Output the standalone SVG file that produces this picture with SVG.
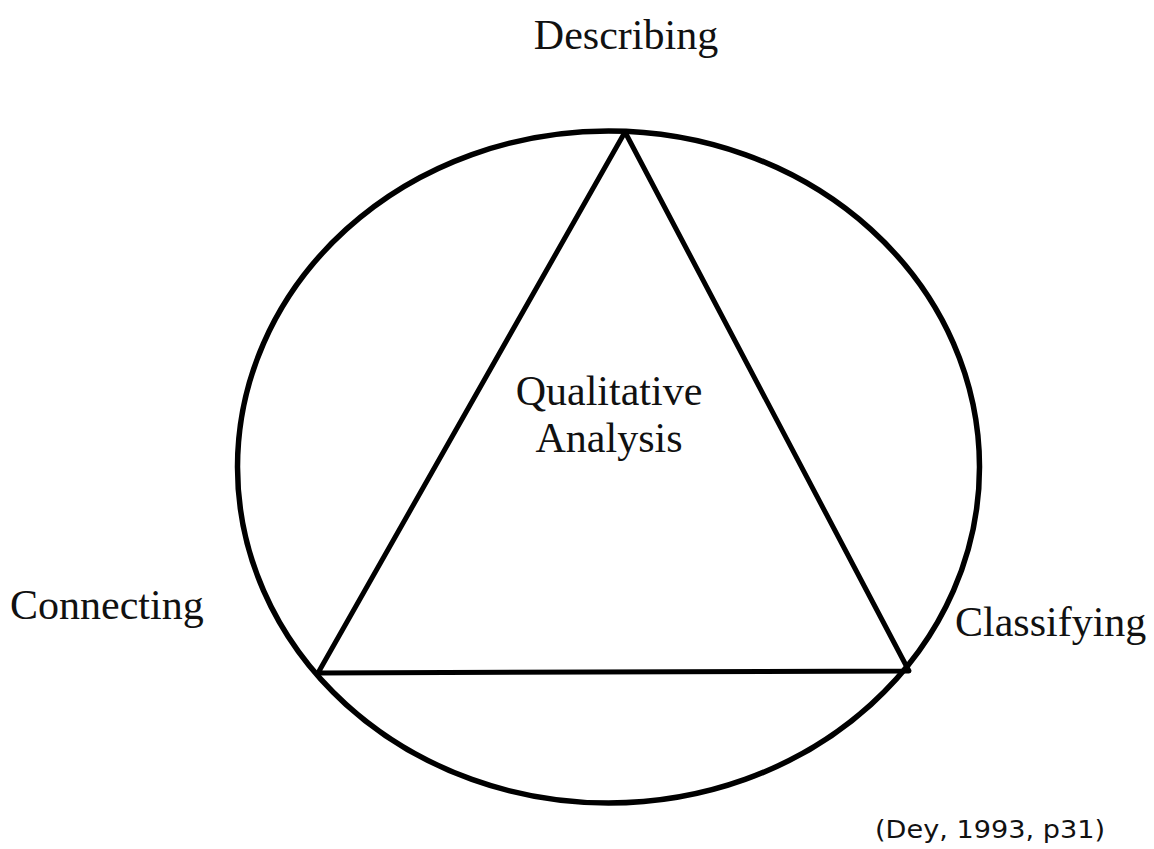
<svg xmlns="http://www.w3.org/2000/svg" width="1154" height="849" viewBox="0 0 1154 849">
<style>
.lbl{font-family:"Liberation Serif","Times New Roman",serif;font-size:42px;fill:#111}
.cite{font-family:"DejaVu Sans",Verdana,sans-serif;font-size:24px;fill:#111}
.ln{fill:none;stroke:#000;stroke-linejoin:round;stroke-linecap:round}
</style>
<rect width="1154" height="849" fill="#fff"/>
<g id="circle"><ellipse class="ln" cx="608.5" cy="467" rx="371" ry="336" stroke-width="5.5"/></g>
<g id="connectors"><polygon class="ln" points="625,132 318,673 909,671" stroke-width="5"/></g>
<g id="center"><text class="lbl" x="609" y="405" text-anchor="middle">Qualitative</text><text class="lbl" x="609" y="452" text-anchor="middle">Analysis</text></g>
<g id="describing"><text class="lbl" x="626" y="49" text-anchor="middle">Describing</text></g>
<g id="connecting"><text class="lbl" x="10" y="619">Connecting</text></g>
<g id="classifying"><text class="lbl" x="955" y="636">Classifying</text></g>
<g id="citation"><text class="cite" x="875" y="838" textLength="230" lengthAdjust="spacingAndGlyphs">(Dey, 1993, p31)</text></g>
</svg>
